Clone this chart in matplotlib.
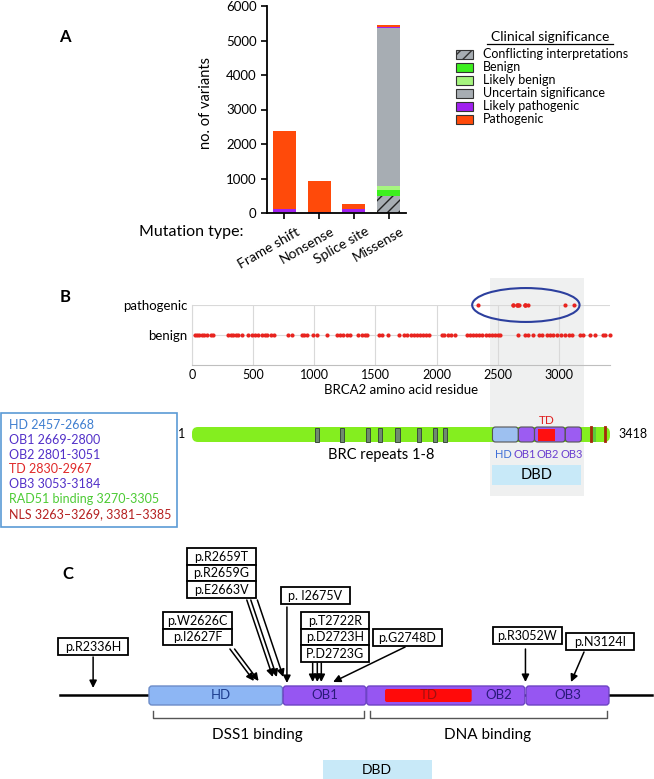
import matplotlib.pyplot as plt
import numpy as np
from matplotlib.patches import Rectangle, FancyBboxPatch, Ellipse
from matplotlib.transforms import ScaledTranslation

plt.rcParams['font.family'] = ['Lato', 'DejaVu Sans']

# ---- panel A: variants per mutation type ----
mut_types = ['Frame shift', 'Nonsense', 'Splice site', 'Missense']
conflicting = [0, 0, 0, 500]
benign = [0, 0, 0, 160]
likely_benign = [0, 0, 0, 110]
uncertain = [30, 10, 15, 4580]
likely_pathogenic = [90, 30, 100, 40]
pathogenic = [2270, 895, 145, 60]
sig_labels = ['Conflicting interpretations', 'Benign', 'Likely benign',
              'Uncertain significance', 'Likely pathogenic', 'Pathogenic']
sig_colors = ['#A7ADB3', '#3CF01E', '#A6F57F', '#A7ADB3', '#A020F0', '#FF4A0A']

# ---- panel B: variant positions along BRCA2 ----
benign_pos = [25, 44, 60, 79, 98, 120, 153, 174,
              297, 316, 338, 360, 379, 406, 460, 488,
              518, 542, 570, 597, 616, 643, 670, 787, 815,
              897, 919, 938, 992, 1020, 1101,
              1183, 1210, 1237, 1265, 1292, 1360, 1387, 1415, 1434,
              1529, 1556, 1600, 1695, 1735, 1762, 1790, 1815, 1840, 1865, 1890, 1915, 1937,
              2041, 2063, 2090, 2117, 2150,
              2245, 2272, 2300, 2325, 2350, 2375, 2400, 2425, 2450, 2475, 2499, 2518,
              2668, 2722, 2744, 2785,
              2839, 2866, 2899, 2926, 2954, 2981, 3014, 3054, 3084, 3104,
              3172, 3199, 3253, 3294, 3357, 3381, 3417]
mut_names = ['p.R2336H', 'p.W2626C', 'p.I2627F', 'p.R2659T', 'p.R2659G', 'p.E2663V',
             'p. I2675V', 'p.T2722R', 'p.D2723H', 'P.D2723G', 'p.G2748D', 'p.R3052W', 'p.N3124I']
mut_pos = [2336, 2626, 2627, 2659, 2659, 2663, 2675, 2722, 2723, 2723, 2748, 3052, 3124]

protein_len = 3418
brc_starts = [1002, 1212, 1421, 1517, 1664, 1837, 1971, 2051]
brc_len = 34
domains = ['HD', 'OB1', 'OB2', 'OB3']
dom_start = [2457, 2669, 2801, 3053]
dom_end = [2668, 2800, 3051, 3184]
td_range = (2830, 2967)
rad51_range = (3270, 3305)
nls_ranges = [(3263, 3269), (3381, 3385)]

key_lines = ['HD 2457-2668', 'OB1 2669-2800', 'OB2 2801-3051', 'TD 2830-2967',
             'OB3 3053-3184', 'RAD51 binding 3270-3305', 'NLS 3263\u20133269, 3381\u20133385']
key_colors = ['#3F7FD0', '#5230C8', '#5230C8', '#E02828', '#5230C8', '#4CCB34', '#B52020']

W, H = 654, 779
fig = plt.figure(figsize=(W / 100, H / 100), dpi=100)


def px_box(l, t, r, b):
    return [l / W, 1 - b / H, (r - l) / W, (b - t) / H]


ov = fig.add_axes([0, 0, 1, 1])
ov.set_xlim(0, W)
ov.set_ylim(H, 0)
ov.axis('off')

# ================= A =================
ov.text(65, 37, 'A', fontsize=12, fontweight='bold', ha='center', va='center')
axA = fig.add_axes(px_box(267, 6, 406, 213))
x = np.arange(len(mut_types))
bottom = np.zeros(len(mut_types))
series = [conflicting, benign, likely_benign, uncertain, likely_pathogenic, pathogenic]
for vals, col, lab in zip(series, sig_colors, sig_labels):
    hatched = lab.startswith('Conflicting')
    axA.bar(x, vals, 0.66, bottom=bottom, color=col, hatch='///' if hatched else None,
            edgecolor='#222222' if hatched else col, linewidth=0)
    bottom += np.array(vals)
axA.set_xlim(-0.5, 3.5)
axA.set_ylim(0, 6000)
axA.set_yticks(range(0, 6001, 1000))
for s in ['top', 'right']:
    axA.spines[s].set_visible(False)
for s in ['left', 'bottom']:
    axA.spines[s].set_linewidth(1.3)
axA.tick_params(width=1.2, length=4, labelsize=9.5)
axA.set_xticks(x)
axA.set_xticklabels(mut_types, rotation=30, ha='right', rotation_mode='anchor', fontsize=10)
shift = ScaledTranslation(11 / 100, -2 / 100, fig.dpi_scale_trans)
for lab in axA.get_xticklabels():
    lab.set_transform(lab.get_transform() + shift)
axA.set_ylabel('no. of variants', fontsize=10.5)
axA.yaxis.set_label_coords(-0.39, 0.53)
ov.text(191, 232, 'Mutation type:', fontsize=11.5, ha='center', va='center')

# legend
ov.text(550, 37, 'Clinical significance', fontsize=10, ha='center', va='center')
ov.plot([487, 613], [44, 44], color='black', lw=0.9)
for i, (lab, col) in enumerate(zip(sig_labels, sig_colors)):
    yy = 54 + i * 13
    ov.add_patch(Rectangle((456, yy - 4.5), 17, 9, facecolor=col, edgecolor='#333333', lw=0.8,
                           hatch='///' if i == 0 else None))
    ov.text(483, yy, lab, fontsize=9, ha='left', va='center')

# ================= B =================
ov.text(65, 297, 'B', fontsize=12, fontweight='bold', ha='center', va='center')

axP = fig.add_axes(px_box(192, 270, 610, 500))
axP.set_xlim(0, protein_len)
axP.set_ylim(500, 270)
axP.axis('off')
res_per_px = protein_len / (610 - 192)
axP.axvspan(dom_start[0] - 20, dom_end[-1] + 20, ymin=4 / 230, ymax=222 / 230,
            color='#EFF0F0', lw=0, zorder=0)
axP.add_patch(FancyBboxPatch((0, 427), protein_len, 15,
                             boxstyle='round,pad=0,rounding_size=%f' % (6 * res_per_px),
                             mutation_aspect=1 / res_per_px, fc='#84EE1F', ec='none', zorder=1))
for s in brc_starts:
    axP.add_patch(Rectangle((s, 427.5), brc_len, 14, fc='#6F8A6F', ec='#3C4C3C', lw=0.7, zorder=2))
for name, s, e in zip(domains, dom_start, dom_end):
    fc = '#9DC0F0' if name == 'HD' else '#9C5CF2'
    axP.add_patch(FancyBboxPatch((s, 427), e - s, 15,
                                 boxstyle='round,pad=0,rounding_size=%f' % (3 * res_per_px),
                                 mutation_aspect=1 / res_per_px, fc=fc, ec='#555555', lw=0.8, zorder=2))
    axP.text((s + e) / 2 - 15, 454, name, fontsize=8, ha='center', va='center',
             color='#3F6FD8' if name == 'HD' else '#6A3ED0')
axP.add_patch(Rectangle((td_range[0], 428.5), td_range[1] - td_range[0], 12, fc='#FF1010', ec='none', zorder=3))
axP.text(sum(td_range) / 2, 420, 'TD', fontsize=8.5, color='#E02020', ha='center', va='center')
axP.add_patch(Rectangle((rad51_range[0], 427), rad51_range[1] - rad51_range[0], 15,
                        fc='#5CC83C', ec='none', zorder=2))
for s, e in nls_ranges:
    axP.add_patch(Rectangle((s, 427), e - s, 15, fc='#A5280A', ec='#A5280A', lw=1.3, zorder=3))
axP.annotate('1', (0, 434.5), xytext=(-5, 0), textcoords='offset points', fontsize=9,
             ha='right', va='center')
axP.annotate(str(protein_len), (protein_len, 434.5), xytext=(6, 0), textcoords='offset points',
             fontsize=9, ha='left', va='center')
axP.text((brc_starts[0] + brc_starts[-1] + brc_len) / 2, 455, 'BRC repeats 1-8', fontsize=10.5,
         ha='center', va='center')
axP.add_patch(Rectangle((dom_start[0], 465), dom_end[-1] - dom_start[0], 20, fc='#C8E9F8', ec='none'))
axP.text((dom_start[0] + dom_end[-1]) / 2, 475, 'DBD', fontsize=10.5, ha='center', va='center')

axS = fig.add_axes(px_box(192, 305, 610, 365), facecolor='none')
axS.scatter(benign_pos, [1] * len(benign_pos), s=9, color='#E8241F', lw=0, zorder=3, clip_on=False)
axS.scatter(mut_pos, [2] * len(mut_pos), s=9, color='#E8241F', lw=0, zorder=3, clip_on=False)
lo, hi = min(mut_pos), max(mut_pos)
axS.add_patch(Ellipse(((lo + hi) / 2, 2), hi - lo + 90, 1.13, fc='none', ec='#2C3F9E', lw=1.5,
                      clip_on=False, zorder=4))
axS.set_xlim(0, protein_len)
axS.set_ylim(0, 2)
axS.set_xticks(range(0, 3001, 500))
axS.set_yticks([1, 2])
axS.set_yticklabels(['benign', 'pathogenic'])
axS.tick_params(length=0, labelsize=9, pad=3)
axS.tick_params(axis='y', labelsize=9.5)
axS.grid(True, color='#D9D9D9', lw=0.8)
axS.set_axisbelow(True)
for s in ['top', 'right']:
    axS.spines[s].set_visible(False)
axS.spines['left'].set_color('#D9D9D9')
axS.spines['bottom'].set_color('#BFBFBF')
axS.set_xlabel('BRCA2 amino acid residue', fontsize=9.5, labelpad=2)

# key box
ov.add_patch(Rectangle((1, 413), 176, 114, fc='white', ec='#5B9BD5', lw=1.2))
for i, (txt, col) in enumerate(zip(key_lines, key_colors)):
    ov.text(9, 425 + i * 14.8, txt, fontsize=9, color=col, ha='left', va='center')

# ================= C =================
ov.text(68, 574, 'C', fontsize=12, fontweight='bold', ha='center', va='center')
K = 0.6327  # px per residue in panel C
x0 = dom_start[0] - 149 / K
axC = fig.add_axes(px_box(0, 540, W, H))
axC.set_xlim(x0, x0 + W / K)
axC.set_ylim(H, 540)
axC.axis('off')


def px2res(p):
    return x0 + p / K


def c_x(r):
    # region left of HD is drawn compressed
    return r if r >= dom_start[0] else dom_start[0] - (dom_start[0] - r) * 0.73


axC.plot([px2res(60), px2res(652)], [695, 695], color='black', lw=1.8, zorder=1)
for name, s, e in zip(domains, dom_start, dom_end):
    fc, ec = ('#8DB6F4', '#6C8CC8') if name == 'HD' else ('#9656F2', '#6D44C4')
    axC.add_patch(FancyBboxPatch((s, 686), e - s, 19,
                                 boxstyle='round,pad=0,rounding_size=%f' % (3 / K),
                                 mutation_aspect=K, fc=fc, ec=ec, lw=1, zorder=2))
axC.add_patch(FancyBboxPatch((td_range[0], 689), td_range[1] - td_range[0], 13,
                             boxstyle='round,pad=0,rounding_size=%f' % (2 / K),
                             mutation_aspect=K, fc='#FF0A0A', ec='none', zorder=3))
axC.text((dom_start[0] + dom_end[0]) / 2 + 8, 695.5, 'HD', fontsize=9.5, color='#1F3F8F',
         ha='center', va='center', zorder=4)
axC.text((dom_start[1] + dom_end[1]) / 2, 695.5, 'OB1', fontsize=9.5, color='#2A1A7A',
         ha='center', va='center', zorder=4)
axC.text(sum(td_range) / 2, 695.5, 'TD', fontsize=9.5, color='#A01010', ha='center', va='center', zorder=4)
axC.text((td_range[1] + dom_end[2]) / 2, 695.5, 'OB2', fontsize=9.5, color='#2A1A7A',
         ha='center', va='center', zorder=4)
axC.text((dom_start[3] + dom_end[3]) / 2, 695.5, 'OB3', fontsize=9.5, color='#2A1A7A',
         ha='center', va='center', zorder=4)

# binding brackets
for s, e, lab in [(dom_start[0], dom_end[1], 'DSS1 binding'), (dom_start[2], dom_end[3], 'DNA binding')]:
    a, b = s + 6, e - 3
    axC.plot([a, a, b, b], [711, 718, 718, 711], color='#555555', lw=1)
    axC.text((s + e) / 2, 735, lab, fontsize=11, ha='center', va='center')

# mutation labels: (indices, box left, box top, box width, arrow dx, arrow start y, tip y)
c_groups = [
    ([0], 58, 638, 70, 0, 657, 688),
    ([1, 2], 163, 612, 69, -24, 649, 681),
    ([3, 4, 5], 187, 548, 69, -26, 600, 677),
    ([6], 281, 587, 69, 0, 607, 683),
    ([7, 8, 9], 301, 612, 68, 0, 663, 682),
    ([10], 373, 629, 69, 72, 647, 682),
    ([11], 493, 627, 69, 0, 649, 682),
    ([12], 566, 633, 68, 13, 652, 682),
]
row_h = 16.6
spread = {1: [0], 2: [-2, 2], 3: [-4, 0, 4]}
for idx, left, top, w, dx, sy, ty in c_groups:
    for j, i in enumerate(idx):
        yb = top + j * row_h
        axC.add_patch(Rectangle((px2res(left), yb), w / K, row_h, fc='white', ec='black', lw=1.3, zorder=5))
        axC.text(px2res(left + w / 2), yb + row_h / 2 + 0.5, mut_names[i], fontsize=9,
                 ha='center', va='center', zorder=6)
    for j, i in enumerate(idx):
        tip = c_x(mut_pos[i]) + spread[len(idx)][j] / K
        axC.annotate('', xy=(tip, ty), xytext=(tip + dx / K, sy),
                     arrowprops=dict(arrowstyle='-|>', color='black', lw=1.1, mutation_scale=11,
                                     shrinkA=0, shrinkB=0))

ov.add_patch(Rectangle((323, 760), 109, 19, fc='#C8E9F8', ec='none'))
ov.text(377, 770, 'DBD', fontsize=10, ha='center', va='center')

fig.savefig('out.png', dpi=100)
